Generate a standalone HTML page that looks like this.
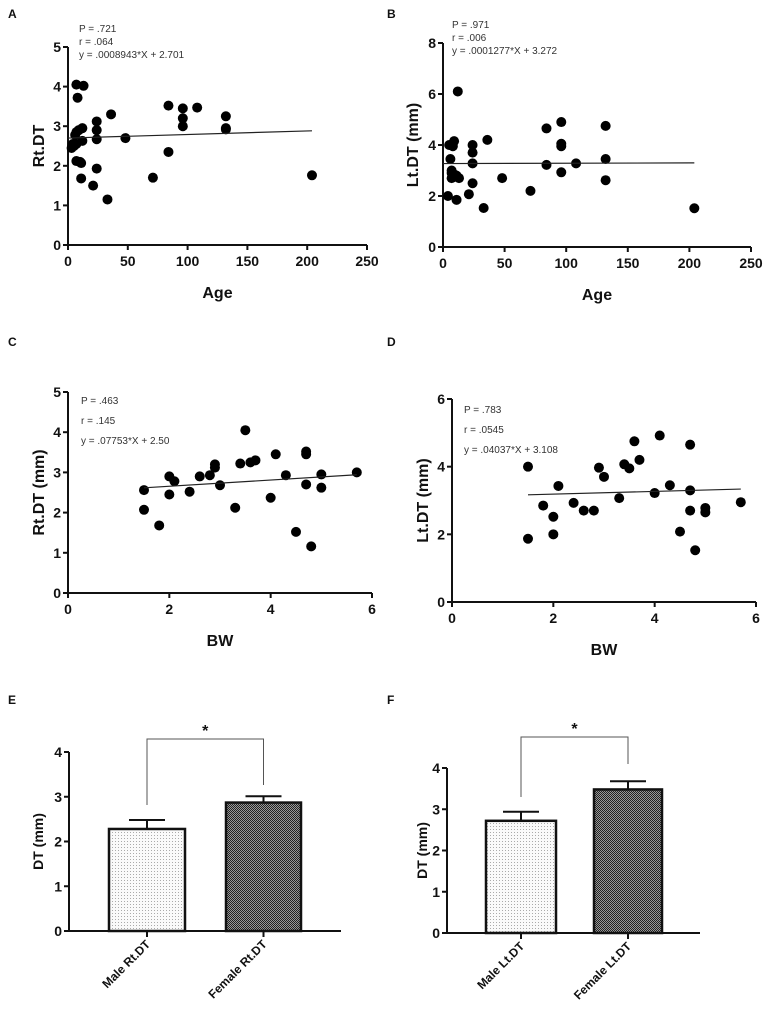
<!DOCTYPE html>
<html><head><meta charset="utf-8"><style>
html,body{margin:0;padding:0;background:#fff;}
svg{display:block;font-family:"Liberation Sans",Arial,sans-serif;}
.tick{font-size:14px;font-weight:bold;fill:#111;}
.atitle{font-size:16px;font-weight:bold;fill:#111;}
.ann{font-size:10px;fill:#333;}
.plabel{font-size:12px;font-weight:bold;fill:#111;}
</style></head><body>
<svg id="fig" width="767" height="1015" viewBox="0 0 767 1015">
<defs>
<pattern id="lightdots" width="3" height="3" patternUnits="userSpaceOnUse"><rect width="3" height="3" fill="#fafafa"/><rect x="1" y="1" width="1" height="1" fill="#aaa"/></pattern>
<pattern id="darkcheck" width="2" height="2" patternUnits="userSpaceOnUse"><rect width="2" height="2" fill="#999"/><rect width="1" height="1" fill="#222"/><rect x="1" y="1" width="1" height="1" fill="#222"/></pattern>
</defs>
</svg>
<script>
// Panel A data
const aX=[3,4,5,6,7,7,7,7,8,9,10,11,11,12,12,13,21,24,24,24,24,33,36,48,71,84,84,96,96,96,108,132,132,132,204];
const aY=[2.45,2.55,2.5,2.78,2.85,2.55,2.12,4.05,3.72,2.9,2.1,2.07,1.68,2.95,2.63,4.02,1.5,3.12,2.9,2.67,1.93,1.15,3.3,2.7,1.7,3.52,2.35,3.45,3.2,3.0,3.47,3.25,2.95,2.92,1.76];
// Panel B data
const bX=[4,5,6,7,7,7,8,9,9,10,11,11,12,13,21,24,24,24,24,33,36,48,71,84,84,96,96,96,96,108,132,132,132,204];
const bY=[2.0,4.0,3.45,3.0,2.9,2.7,3.95,4.15,2.85,2.8,2.8,1.85,6.1,2.7,2.07,4.0,3.7,3.28,2.5,1.53,4.2,2.7,2.2,4.65,3.22,4.9,4.05,3.95,2.93,3.28,4.75,3.45,2.62,1.52];
// Panel C data
const cX=[1.5,1.5,1.8,2.0,2.0,2.1,2.4,2.6,2.8,2.9,2.9,3.0,3.3,3.4,3.5,3.6,3.7,4.0,4.1,4.3,4.5,4.7,4.7,4.7,4.8,5.0,5.0,5.7];
const cY=[2.56,2.07,1.68,2.9,2.45,2.78,2.52,2.9,2.93,3.2,3.12,2.68,2.12,3.22,4.05,3.25,3.3,2.37,3.45,2.93,1.52,3.52,3.45,2.7,1.16,2.95,2.62,3.0];
// Panel D data
const dX=[1.5,1.5,1.8,2.0,2.0,2.1,2.4,2.6,2.8,2.9,3.0,3.3,3.4,3.5,3.6,3.7,4.0,4.1,4.3,4.5,4.7,4.7,4.7,4.8,5.0,5.0,5.7];
const dY=[4.0,1.87,2.85,2.52,2.0,3.43,2.93,2.7,2.7,3.97,3.7,3.07,4.07,3.95,4.75,4.2,3.22,4.92,3.45,2.08,4.65,3.3,2.7,1.53,2.78,2.65,2.95];
// Regression fits
const fitA=[0.0008943,2.701], fitB=[0.0001277,3.272], fitC=[0.07753,2.50], fitD=[0.04037,3.108];
// Bar data
const eCats=["Male Rt.DT","Female Rt.DT"], eVals=[2.28,2.87], eErr=[0.2,0.14];
const fCats=["Male Lt.DT","Female Lt.DT"], fVals=[2.72,3.48], fErr=[0.22,0.2];

const svg=document.getElementById('fig');
const NS='http://www.w3.org/2000/svg';
function el(tag,attrs,parent,text){const e=document.createElementNS(NS,tag);for(const k in attrs)e.setAttribute(k,attrs[k]);if(text!==undefined)e.textContent=text;(parent||svg).appendChild(e);return e;}

function axes(g,ox,oy,xEnd,yTop,yTicks,ySc,xTicks,xSc){
  el('line',{x1:ox,y1:oy+1,x2:ox,y2:yTop,stroke:'#111','stroke-width':2},g);
  el('line',{x1:ox-1,y1:oy,x2:xEnd,y2:oy,stroke:'#111','stroke-width':2},g);
  yTicks.forEach(v=>{const y=ySc(v);el('line',{x1:ox-5,y1:y,x2:ox,y2:y,stroke:'#111','stroke-width':2},g);
    const t=el('text',{x:ox-7,y:y+5,'text-anchor':'end',class:'tick'},g,String(v));
    
    });
  if(xTicks)xTicks.forEach(v=>{const x=xSc(v);el('line',{x1:x,y1:oy,x2:x,y2:oy+5,stroke:'#111','stroke-width':2},g);
    const t=el('text',{x:x,y:oy+21,'text-anchor':'middle',class:'tick'},g,String(v));
    
    });
}

function scatter(cfg){
  const g=el('g',{});
  
  
  const xs=v=>cfg.ox+(v-0)/cfg.xMax*(cfg.xEnd-cfg.ox);
  const ys=v=>cfg.oy-v/cfg.yMax*(cfg.oy-cfg.yTop);
  axes(g,cfg.ox,cfg.oy,cfg.xEnd,cfg.yTop,cfg.yTicks,ys,cfg.xTicks,xs);
  cfg.X.forEach((x,i)=>{const c=el('circle',{cx:xs(x),cy:ys(cfg.Y[i]),r:5,fill:'#000'},g);
    
    });
  const l=el('line',{x1:xs(cfg.l0),y1:ys(cfg.fit[0]*cfg.l0+cfg.fit[1]),x2:xs(cfg.l1),y2:ys(cfg.fit[0]*cfg.l1+cfg.fit[1]),stroke:'#222','stroke-width':1.2},g);
  
  
  cfg.ann.forEach((s,i)=>{const t=el('text',{x:cfg.annX,y:cfg.annY+i*cfg.annDy,class:'ann'},g,s);
    
    });
  const yt=el('text',{x:0,y:0,'text-anchor':'middle',class:'atitle',transform:`translate(${cfg.ytx},${(cfg.oy+cfg.yTop)/2}) rotate(-90)`},g,cfg.yTitle);
  
  
  const xt=el('text',{x:(cfg.ox+cfg.xEnd)/2,y:cfg.oy+53,'text-anchor':'middle',class:'atitle'},g,cfg.xTitle);
  
  
}

scatter({name:'panel-a-scatter',ox:68,oy:245,xEnd:367,yTop:47,xMax:250,yMax:5,yTicks:[0,1,2,3,4,5],xTicks:[0,50,100,150,200,250],X:aX,Y:aY,fit:fitA,l0:0,l1:204,
  ann:['P = .721','r = .064','y = .0008943*X + 2.701'],annX:79,annY:32,annDy:13,ytx:44,yTitle:'Rt.DT',xTitle:'Age'});
scatter({name:'panel-b-scatter',ox:443,oy:247,xEnd:751,yTop:43,xMax:250,yMax:8,yTicks:[0,2,4,6,8],xTicks:[0,50,100,150,200,250],X:bX,Y:bY,fit:fitB,l0:0,l1:204,
  ann:['P = .971','r = .006','y = .0001277*X + 3.272'],annX:452,annY:28,annDy:13,ytx:418,yTitle:'Lt.DT (mm)',xTitle:'Age'});
scatter({name:'panel-c-scatter',ox:68,oy:593,xEnd:372,yTop:392,xMax:6,yMax:5,yTicks:[0,1,2,3,4,5],xTicks:[0,2,4,6],X:cX,Y:cY,fit:fitC,l0:1.5,l1:5.7,
  ann:['P = .463','r = .145','y = .07753*X + 2.50'],annX:81,annY:404,annDy:20,ytx:44,yTitle:'Rt.DT (mm)',xTitle:'BW'});
scatter({name:'panel-d-scatter',ox:452,oy:602,xEnd:756,yTop:399,xMax:6,yMax:6,yTicks:[0,2,4,6],xTicks:[0,2,4,6],X:dX,Y:dY,fit:fitD,l0:1.5,l1:5.7,
  ann:['P = .783','r = .0545','y = .04037*X + 3.108'],annX:464,annY:413,annDy:20,ytx:428,yTitle:'Lt.DT (mm)',xTitle:'BW'});

function bars(cfg){
  const g=el('g',{});
  
  
  const ys=v=>cfg.oy-v/4*(cfg.oy-cfg.yTop);
  axes(g,cfg.ox,cfg.oy,cfg.xEnd,cfg.yTop,[0,1,2,3,4],ys,null,null);
  cfg.vals.forEach((v,i)=>{
    const [x0,x1]=cfg.bx[i];const cx=(x0+x1)/2;
    const top=ys(v+cfg.err[i]);
    const eb=el('line',{x1:cx,y1:ys(v),x2:cx,y2:top,stroke:'#111','stroke-width':2},g);
    
    
    el('line',{x1:cx-18,y1:top,x2:cx+18,y2:top,stroke:'#111','stroke-width':2},g);
    const r=el('rect',{x:x0,y:ys(v),width:x1-x0,height:cfg.oy-ys(v),fill:i?'url(#darkcheck)':'url(#lightdots)',stroke:'#111','stroke-width':2.5},g);
    
    
    el('line',{x1:cx,y1:cfg.oy,x2:cx,y2:cfg.oy+6,stroke:'#111','stroke-width':2},g);
    const t=el('text',{x:0,y:0,'text-anchor':'end',class:'tick',style:'font-size:12px',transform:`translate(${cx+4},${cfg.oy+14}) rotate(-45)`},g,cfg.cats[i]);
    
    
  });
  const c0=(cfg.bx[0][0]+cfg.bx[0][1])/2,c1=(cfg.bx[1][0]+cfg.bx[1][1])/2;
  const br=el('polyline',{points:`${c0},${cfg.legs[0]} ${c0},${cfg.brTop} ${c1},${cfg.brTop} ${c1},${cfg.legs[1]}`,fill:'none',stroke:'#555','stroke-width':1},g);
  
  
  const s=el('text',{x:(c0+c1)/2,y:cfg.brTop-3,'text-anchor':'middle',class:'atitle'},g,'*');
  
  
  const yt=el('text',{x:0,y:0,'text-anchor':'middle',class:'atitle',style:'font-size:14px',transform:`translate(${cfg.ytx},${(cfg.oy+cfg.yTop)/2}) rotate(-90)`},g,'DT (mm)');
  
  
}
bars({name:'panel-e-bars',ox:69,oy:931,xEnd:341,yTop:752,bx:[[109,185],[226,301]],cats:eCats,vals:eVals,err:eErr,brTop:739,legs:[805,785],ytx:43});
bars({name:'panel-f-bars',ox:447,oy:933,xEnd:700,yTop:768,bx:[[486,556],[594,662]],cats:fCats,vals:fVals,err:fErr,brTop:737,legs:[797,764],ytx:427});

[['A',8,18],['B',387,18],['C',8,346],['D',387,346],['E',8,704],['F',387,704]].forEach(p=>{
  const t=el('text',{x:p[1],y:p[2],class:'plabel'},svg,p[0]);
  
  
});
</script>
</body></html>
